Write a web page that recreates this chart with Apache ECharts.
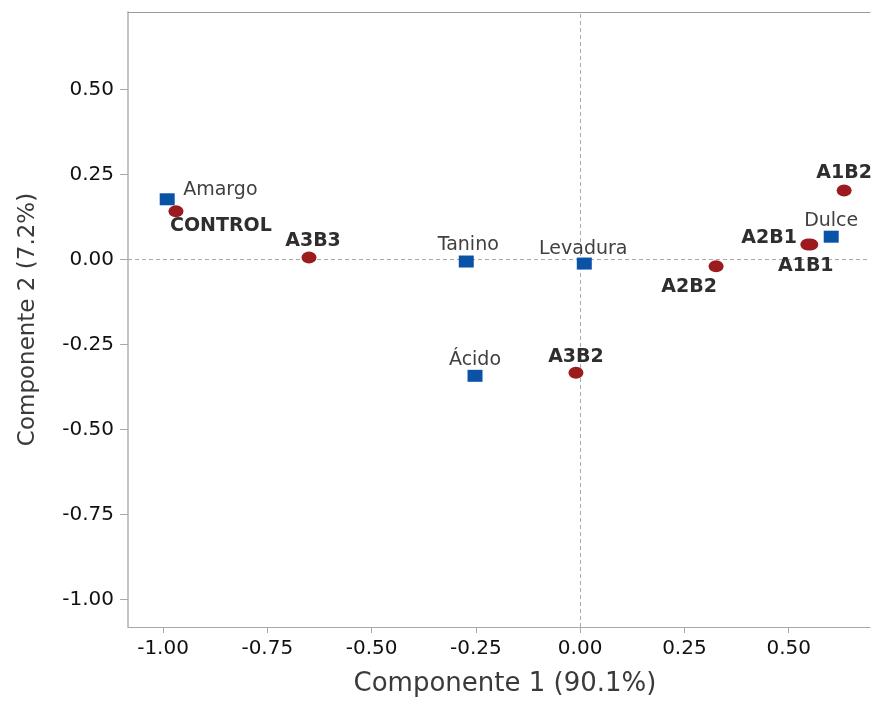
<!DOCTYPE html>
<html>
<head>
<meta charset="utf-8">
<script src="https://cdn.jsdelivr.net/npm/echarts@6/dist/echarts.min.js"></script>
<style>html,body{margin:0;padding:0;background:#fff}#c{width:871px;height:702px}</style>
</head>
<body>
<div id="c"></div>
<script>
// ---- data ----
const treatments = ['CONTROL', 'A3B3', 'A3B2', 'A2B2', 'A2B1', 'A1B1', 'A1B2'];
const treatX = [-0.969, -0.650, -0.010, 0.326, 0.546, 0.553, 0.633];
const treatY = [0.142, 0.006, -0.333, -0.020, 0.044, 0.044, 0.203];

const variables = ['Amargo', 'Tanino', 'Levadura', 'Ácido', 'Dulce'];
const varX = [-0.990, -0.273, 0.010, -0.252, 0.602];
const varY = [0.177, -0.006, -0.012, -0.342, 0.067];

const xTicks = [-1.00, -0.75, -0.50, -0.25, 0.00, 0.25, 0.50];
const yTicks = [-1.00, -0.75, -0.50, -0.25, 0.00, 0.25, 0.50];

const xTitle = 'Componente 1 (90.1%)';
const yTitle = 'Componente 2 (7.2%)';

// ---- label placement (style) ----
const labelPlace = {
  'Amargo':   ['left',   16,  -9],
  'CONTROL':  ['left',   -6,  15],
  'A3B3':     ['center',  4, -16],
  'Tanino':   ['center',  2, -16],
  'Levadura': ['center', -1, -15],
  'Ácido':    ['center',  0, -16],
  'A3B2':     ['center',  0, -16],
  'A2B2':     ['center', -27, 21],
  'A2B1':     ['right',  -11, -6],
  'A1B1':     ['center', -5,  22],
  'Dulce':    ['center',  0, -16],
  'A1B2':     ['center',  0, -17]
};

const FONT = 'DejaVu Sans';

function mkData(names, xs, ys, bold) {
  return names.map((n, i) => {
    const p = labelPlace[n];
    return {
      name: n,
      value: [xs[i], ys[i]],
      label: {
        show: true,
        formatter: n,
        position: 'inside',
        align: p[0],
        verticalAlign: 'middle',
        offset: [p[1], p[2]],
        fontFamily: FONT,
        fontSize: 19,
        fontWeight: bold ? 'bold' : 'normal',
        color: bold ? '#2e2e2e' : '#404040',
        opacity: 1
      }
    };
  });
}

const chart = echarts.init(document.getElementById('c'), null, {renderer: 'canvas'});
const fmt = v => v.toFixed(2);

chart.setOption({
  animation: false,
  backgroundColor: '#ffffff',
  grid: {left: 128, right: 1, top: 12, bottom: 68, containLabel: false},
  xAxis: [{
    type: 'value', min: -1.084, max: 0.695, position: 'bottom',
    name: xTitle, nameLocation: 'middle', nameGap: 44,
    nameTextStyle: {fontFamily: FONT, fontSize: 26, color: '#3a3a3a', padding: [0, 0, 0, 12]},
    axisLine: {show: true, onZero: false, lineStyle: {color: '#a8a8a8', width: 1}},
    axisTick: {show: true, length: 6, customValues: xTicks, lineStyle: {color: '#a8a8a8'}},
    axisLabel: {customValues: xTicks, formatter: fmt, margin: 12, fontFamily: FONT, fontSize: 20, color: '#111111'},
    splitLine: {show: false}
  }, {
    type: 'value', min: -1.084, max: 0.695, position: 'top',
    axisLine: {show: true, onZero: false, lineStyle: {color: '#9a9a9a', width: 1}},
    axisTick: {show: false}, axisLabel: {show: false}, splitLine: {show: false}
  }],
  yAxis: [{
    type: 'value', min: -1.0805, max: 0.7276, position: 'left',
    name: yTitle, nameLocation: 'middle', nameGap: 88, nameRotate: 90,
    nameTextStyle: {fontFamily: FONT, fontSize: 23, color: '#3a3a3a'},
    axisLine: {show: true, onZero: false, lineStyle: {color: '#b0b0b0', width: 1.5}},
    axisTick: {show: true, length: 8, customValues: yTicks, lineStyle: {color: '#a8a8a8'}},
    axisLabel: {customValues: yTicks, formatter: fmt, margin: 14, fontFamily: FONT, fontSize: 20, color: '#111111'},
    splitLine: {show: false}
  }],
  series: [{
    type: 'scatter',
    name: 'Tratamientos',
    symbol: 'circle',
    symbolSize: [15, 12],
    itemStyle: {color: '#9b1b1e', opacity: 1},
    data: mkData(treatments, treatX, treatY, true),
    z: 3,
    markLine: {
      silent: true, symbol: 'none', label: {show: false},
      lineStyle: {color: '#aaaaaa', type: [4, 3], width: 1},
      data: [{xAxis: 0}, {yAxis: 0}],
      z: 1
    }
  }, {
    type: 'scatter',
    name: 'Variables',
    symbol: 'rect',
    symbolSize: [15, 12],
    itemStyle: {color: '#0a52a5', opacity: 1},
    data: mkData(variables, varX, varY, false),
    z: 4
  }]
});
</script>
</body>
</html>
